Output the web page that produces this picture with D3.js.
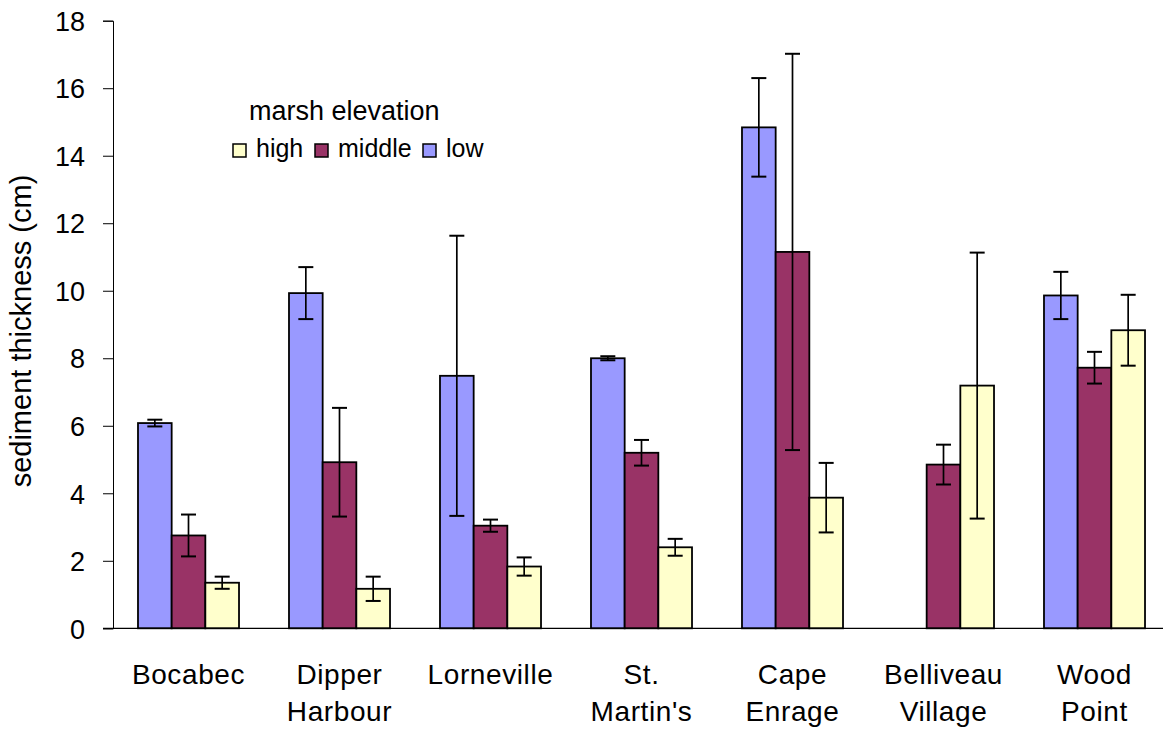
<!DOCTYPE html>
<html>
<head>
<meta charset="utf-8">
<style>
    body { margin: 0; background: #fff; }
    svg { display: block; font-family: "Liberation Sans", Arial, sans-serif; }
</style>
<script src="https://cdn.jsdelivr.net/npm/d3@7/dist/d3.min.js"></script>
</head>
<body>
<svg width="1163" height="730"></svg>
<script>
    // sites, mean sediment thickness (cm) and error bar half-widths
    var sites = ["Bocabec", "Dipper Harbour", "Lorneville", "St. Martin's", "Cape Enrage", "Belliveau Village", "Wood Point"];
    var elevations = ["low", "middle", "high"];
    var lowMean = [6.08, 9.93, 7.48, 8.00, 14.84, null, 9.86];
    var lowErr = [0.10, 0.77, 4.15, 0.06, 1.46, null, 0.70];
    var midMean = [2.75, 4.92, 3.04, 5.20, 11.15, 4.85, 7.72];
    var midErr = [0.62, 1.61, 0.18, 0.38, 5.87, 0.59, 0.47];
    var highMean = [1.35, 1.17, 1.83, 2.40, 3.87, 7.19, 8.83];
    var highErr = [0.18, 0.36, 0.27, 0.25, 1.03, 3.94, 1.05];
    var yTicks = [0, 2, 4, 6, 8, 10, 12, 14, 16, 18];
    var legendOrder = ["high", "middle", "low"];

    var colors = { low: "#9999ff", middle: "#993366", high: "#ffffcc" };

    var series = {
        low: { mean: lowMean, err: lowErr },
        middle: { mean: midMean, err: midErr },
        high: { mean: highMean, err: highErr }
    };

    var svg = d3.select("svg");

    var y = d3.scaleLinear().domain([0, 18]).range([628.3, 20.7]);

    var x0 = d3.scaleBand()
        .domain(sites)
        .range([113, 1170])
        .paddingInner(0.331)
        .paddingOuter(0.1655);

    var x1 = d3.scaleBand()
        .domain(elevations)
        .range([0, x0.bandwidth()]);

    // flatten into one record per bar
    var bars = [];
    sites.forEach(function (s, i) {
        elevations.forEach(function (e) {
            var m = series[e].mean[i];
            if (m === null) return;
            bars.push({ site: s, elev: e, mean: m, err: series[e].err[i] });
        });
    });

    // y axis
    var yAxis = d3.axisLeft(y).tickValues(yTicks).tickSize(10).tickPadding(18);
    var ya = svg.append("g")
        .attr("transform", "translate(113,0)")
        .call(yAxis);
    ya.select(".domain").attr("stroke", "#000").attr("stroke-width", 1);
    ya.selectAll(".tick line").attr("stroke", "#000");
    ya.selectAll(".tick text")
        .attr("fill", "#000")
        .style("font-size", "27px")
        .attr("dy", "0.36em");

    // bars
    var g = svg.append("g");
    g.selectAll("rect")
        .data(bars)
        .enter().append("rect")
        .attr("x", function (d) { return x0(d.site) + x1(d.elev); })
        .attr("y", function (d) { return y(d.mean); })
        .attr("width", x1.bandwidth())
        .attr("height", function (d) { return y(0) - y(d.mean); })
        .attr("fill", function (d) { return colors[d.elev]; })
        .attr("stroke", "#000")
        .attr("stroke-width", 1.8);

    // error bars
    var eb = svg.append("g").attr("stroke", "#000");
    bars.forEach(function (d) {
        var cx = x0(d.site) + x1(d.elev) + x1.bandwidth() / 2;
        var top = y(d.mean + d.err), bot = y(d.mean - d.err);
        eb.append("line").attr("x1", cx).attr("x2", cx).attr("y1", top).attr("y2", bot).attr("stroke-width", 1.7);
        eb.append("line").attr("x1", cx - 7.5).attr("x2", cx + 7.5).attr("y1", top).attr("y2", top).attr("stroke-width", 2);
        eb.append("line").attr("x1", cx - 7.5).attr("x2", cx + 7.5).attr("y1", bot).attr("y2", bot).attr("stroke-width", 2);
    });

    // x axis baseline
    svg.append("line")
        .attr("x1", 103).attr("x2", 1163)
        .attr("y1", y(0)).attr("y2", y(0))
        .attr("stroke", "#000").attr("stroke-width", 1.2);

    // category labels, two lines
    var lab = svg.append("g")
        .selectAll("text")
        .data(sites)
        .enter().append("text")
        .attr("text-anchor", "middle")
        .attr("fill", "#000")
        .style("font-size", "28px")
        .style("letter-spacing", "0.6px")
        .attr("transform", function (d) { return "translate(" + (x0(d) + x0.bandwidth() / 2) + ",684)"; });
    lab.selectAll("tspan")
        .data(function (d) { return d.split(" "); })
        .enter().append("tspan")
        .attr("x", 0)
        .attr("y", function (d, i) { return i * 37; })
        .text(function (d) { return d; });

    // y title
    svg.append("text")
        .attr("transform", "translate(31,331) rotate(-90)")
        .attr("text-anchor", "middle")
        .style("font-size", "29px")
        .text("sediment thickness (cm)");

    // legend
    var leg = svg.append("g");
    leg.append("text")
        .attr("x", 249).attr("y", 120)
        .style("font-size", "27px")
        .text("marsh elevation");
    var legX = { high: 233, middle: 315, low: 423 };
    legendOrder.forEach(function (e) {
        leg.append("rect")
            .attr("x", legX[e]).attr("y", 144)
            .attr("width", 13).attr("height", 13)
            .attr("fill", colors[e])
            .attr("stroke", "#000").attr("stroke-width", 1.5);
        leg.append("text")
            .attr("x", legX[e] + 23).attr("y", 157)
            .style("font-size", "25px")
            .text(e);
    });
</script>
</body>
</html>
